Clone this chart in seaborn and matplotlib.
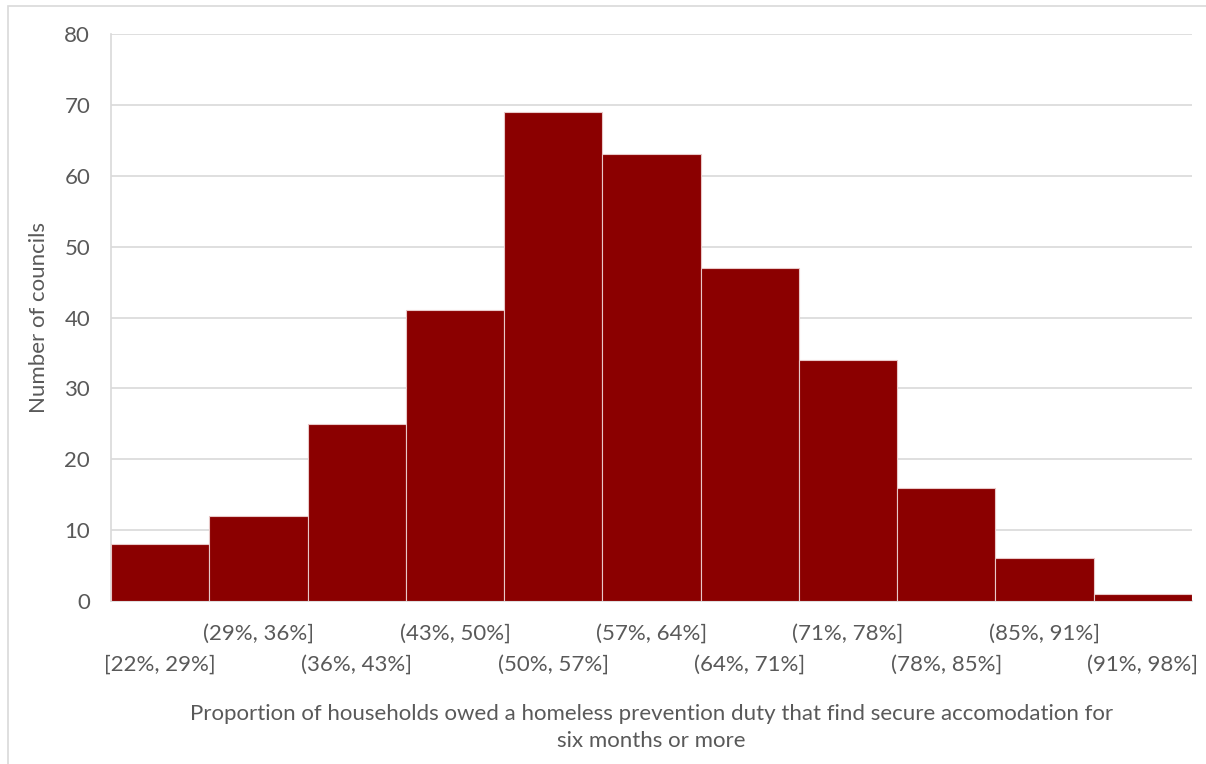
import matplotlib
matplotlib.use("Agg")
import matplotlib.pyplot as plt
import seaborn as sns
import pandas as pd
from matplotlib.patches import Rectangle

bins = ["[22%, 29%]", "(29%, 36%]", "(36%, 43%]", "(43%, 50%]", "(50%, 57%]",
        "(57%, 64%]", "(64%, 71%]", "(71%, 78%]", "(78%, 85%]", "(85%, 91%]",
        "(91%, 98%]"]
counts = [8, 12, 25, 41, 69, 63, 47, 34, 16, 6, 1]
y_ticks = [0, 10, 20, 30, 40, 50, 60, 70, 80]

sns.set_theme(style="white")
plt.rcParams['font.family'] = ['Lato', 'DejaVu Sans']
text_color = "#595959"

df = pd.DataFrame({"bin": bins, "count": counts})

fig = plt.figure(figsize=(12.06, 7.64), dpi=100)
ax = fig.add_axes([111/1206, 1 - 601/764, (1192-111)/1206, (601-34)/764])

sns.barplot(data=df, x="bin", y="count", color="#8B0000", saturation=1,
            width=1.0, edgecolor="#E8C8C8", linewidth=0.8, ax=ax, zorder=3)

ax.set_xlim(-0.5, len(bins) - 0.5)
ax.set_ylim(0, 80)
ax.set_yticks(y_ticks)
ax.set_yticklabels([str(v) for v in y_ticks], fontsize=16, color=text_color)
ax.yaxis.grid(True, color="#D9D9D9", linewidth=1.2, zorder=0)
ax.set_axisbelow(True)

# staggered category labels: even bins on the lower row (major ticks),
# odd bins on the upper row (minor ticks)
even_idx = list(range(0, len(bins), 2))
odd_idx = list(range(1, len(bins), 2))
ax.set_xticks(even_idx)
ax.set_xticklabels([bins[i] for i in even_idx], fontsize=16, color=text_color)
ax.set_xticks(odd_idx, minor=True)
ax.set_xticklabels([bins[i] for i in odd_idx], minor=True, fontsize=16, color=text_color)
ax.tick_params(axis="x", which="major", length=0, pad=39)
ax.tick_params(axis="x", which="minor", length=0, pad=16.5)
ax.tick_params(axis="y", length=0, pad=15)

for s in ["top", "right"]:
    ax.spines[s].set_visible(False)
ax.spines["left"].set_color("#D9D9D9")
ax.spines["bottom"].set_color("#D9D9D9")
ax.spines["left"].set_linewidth(1.2)
ax.spines["bottom"].set_linewidth(1.2)

ax.set_xlabel("Proportion of households owed a homeless prevention duty that find secure accomodation for\nsix months or more",
              fontsize=16, color=text_color, labelpad=21, linespacing=1.4)
ax.set_ylabel("Number of councils", fontsize=16, color=text_color, labelpad=11)

fig.patches.append(Rectangle((8/1206, -0.1), 1.2, 1 - 6/764 + 0.1,
                             transform=fig.transFigure, fill=False,
                             edgecolor="#D9D9D9", linewidth=1.2))

fig.savefig("out.png", dpi=100)
